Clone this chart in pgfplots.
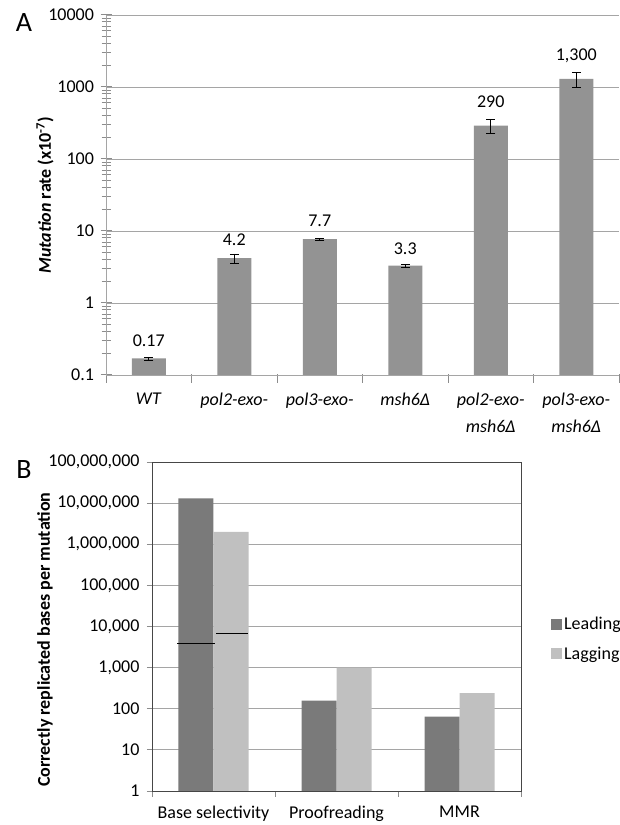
\documentclass[border=0pt]{standalone}
\usepackage{pgfplots}
\usepackage{pgfplotstable}
\pgfplotsset{compat=1.18}
\usepackage{fontspec}
\setmainfont{Carlito}
\definecolor{gridgray}{RGB}{165,165,165}
\definecolor{tickgray}{RGB}{140,140,140}
\definecolor{barA}{RGB}{147,147,147}
\definecolor{lead}{RGB}{122,122,122}
\definecolor{lag}{RGB}{192,192,192}
\definecolor{frameg}{RGB}{70,70,70}

\pgfplotstableread{
x y e lab off
0 0.17 0.008 0.17 17.6
1 4.2 0.6 4.2 18.3
2 7.7 0.2 7.7 18.6
3 3.3 0.15 3.3 17.4
4 290 65 290 24.3
5 1300 310 1,300 23
}\ratedata

\begin{document}
\begin{tikzpicture}
\path[use as bounding box] (0,0) rectangle (620pt,825pt);
\node[font=\fontsize{28}{30}\selectfont] at (24pt,802pt) {A};
\node[font=\fontsize{28}{30}\selectfont] at (24pt,355pt) {B};

% ---------------- Panel A ----------------
\begin{axis}[
  at={(106pt,450pt)}, anchor=south west,
  scale only axis, width=513pt, height=360pt,
  ymode=log, log origin=infty, ymin=0.1, ymax=10000,
  xmin=-0.5, xmax=5.5,
  axis x line*=bottom, axis y line*=left,
  axis line style={gridgray, line width=0.8pt},
  ymajorgrids, grid style={gridgray, line width=0.8pt},
  ytick={0.1,1,10,100,1000,10000},
  yticklabels={0.1,1,10,100,1000,10000},
  minor ytick={0.2,0.3,0.4,0.5,0.6,0.7,0.8,0.9,2,3,4,5,6,7,8,9,20,30,40,50,60,70,80,90,200,300,400,500,600,700,800,900,2000,3000,4000,5000,6000,7000,8000,9000},
  tick align=center, major tick length=11pt, minor tick length=9pt,
  tick style={draw=tickgray, line width=1pt},
  xtick={0,1,2,3,4,5},
  xticklabels={\textit{WT},\textit{pol2-exo-},\textit{pol3-exo-},\textit{msh6Δ},{\textit{pol2-exo-}\\\textit{msh6Δ}},{\textit{pol3-exo-}\\\textit{msh6Δ}}},
  major x tick style={draw=none},
  minor xtick={-0.5,0.5,1.5,2.5,3.5,4.5,5.5},
  minor x tick style={yshift=-3.5pt},
  tick label style={font=\fontsize{18}{27}\selectfont},
  xticklabel style={align=center, yshift=-9pt},
  yticklabel style={xshift=-3pt},
  ylabel={\textit{Mutation} rate (x10\textsuperscript{-7})},
  ylabel style={font=\bfseries\fontsize{18}{20}\selectfont, at={(axis description cs:-0.119,0.5)}, anchor=center},
]
\addplot[ybar, bar width=34pt, fill=barA, draw=none,
  nodes near coords, point meta=explicit symbolic,
  visualization depends on={\thisrow{off} \as \myoff},
  every node near coord/.append style={font=\fontsize{18}{20}\selectfont, black, anchor=center, yshift=\myoff pt},
  error bars/.cd, y dir=both, y explicit,
  error bar style={black, line width=0.8pt},
  error mark options={rotate=90, black, mark size=4.5pt, line width=0.8pt}]
  table[x=x, y=y, y error=e, meta=lab] {\ratedata};
\end{axis}

% ---------------- Panel B ----------------
\begin{axis}[
  at={(152pt,34pt)}, anchor=south west,
  scale only axis, width=369pt, height=329pt,
  ymode=log, log origin=infty, ymin=1, ymax=1e8,
  xmin=-0.5, xmax=2.5,
  axis line style={frameg, line width=0.9pt},
  ymajorgrids, grid style={gridgray, line width=0.8pt},
  ytick={1,10,100,1000,10000,100000,1000000,10000000,100000000},
  yticklabels={1,10,100,{1,000},{10,000},{100,000},{1,000,000},{10,000,000},{100,000,000}},
  tick pos=left, tick align=outside, major tick length=5pt, minor tick length=6pt,
  tick style={draw=tickgray, line width=0.9pt},
  minor y tick style={draw=none},
  xtick={0,1,2},
  xticklabels={Base selectivity, Proofreading, MMR},
  major x tick style={draw=none},
  minor xtick={-0.5,0.5,1.5,2.5},
  tick label style={font=\fontsize{18}{20}\selectfont},
  xticklabel style={yshift=-6pt},
  yticklabel style={xshift=-4pt},
  ylabel={Correctly replicated bases per mutation},
  ylabel style={font=\bfseries\fontsize{18}{20}\selectfont, at={(axis description cs:-0.29,0.46)}, anchor=center},
  legend style={draw=none, fill=none, at={(1.073,0.462)}, anchor=west, row sep=12pt,
    font=\fontsize{18}{20}\selectfont, cells={anchor=west}},
]
\addplot[ybar, bar width=35pt, bar shift=-17.5pt, fill=lead, draw=none,
  legend image code/.code={\fill[lead] (0pt,-5.5pt) rectangle (11pt,5.5pt);}]
  coordinates {(0,1.3e7) (1,157) (2,64)};
\addlegendentry{Leading}
\addplot[ybar, bar width=35pt, bar shift=17.5pt, fill=lag, draw=none,
  legend image code/.code={\fill[lag] (0pt,-5.5pt) rectangle (11pt,5.5pt);}]
  coordinates {(0,2e6) (1,1000) (2,240)};
\addlegendentry{Lagging}
\addplot[black, line width=1.6pt, forget plot] coordinates {(-0.295,3900) (0.012,3900)};
\addplot[black, line width=1.6pt, forget plot] coordinates {(0.022,6700) (0.283,6700)};
\draw[gridgray, line width=0.9pt] (rel axis cs:0,0) -- (rel axis cs:1,0);
\end{axis}
\end{tikzpicture}
\end{document}
